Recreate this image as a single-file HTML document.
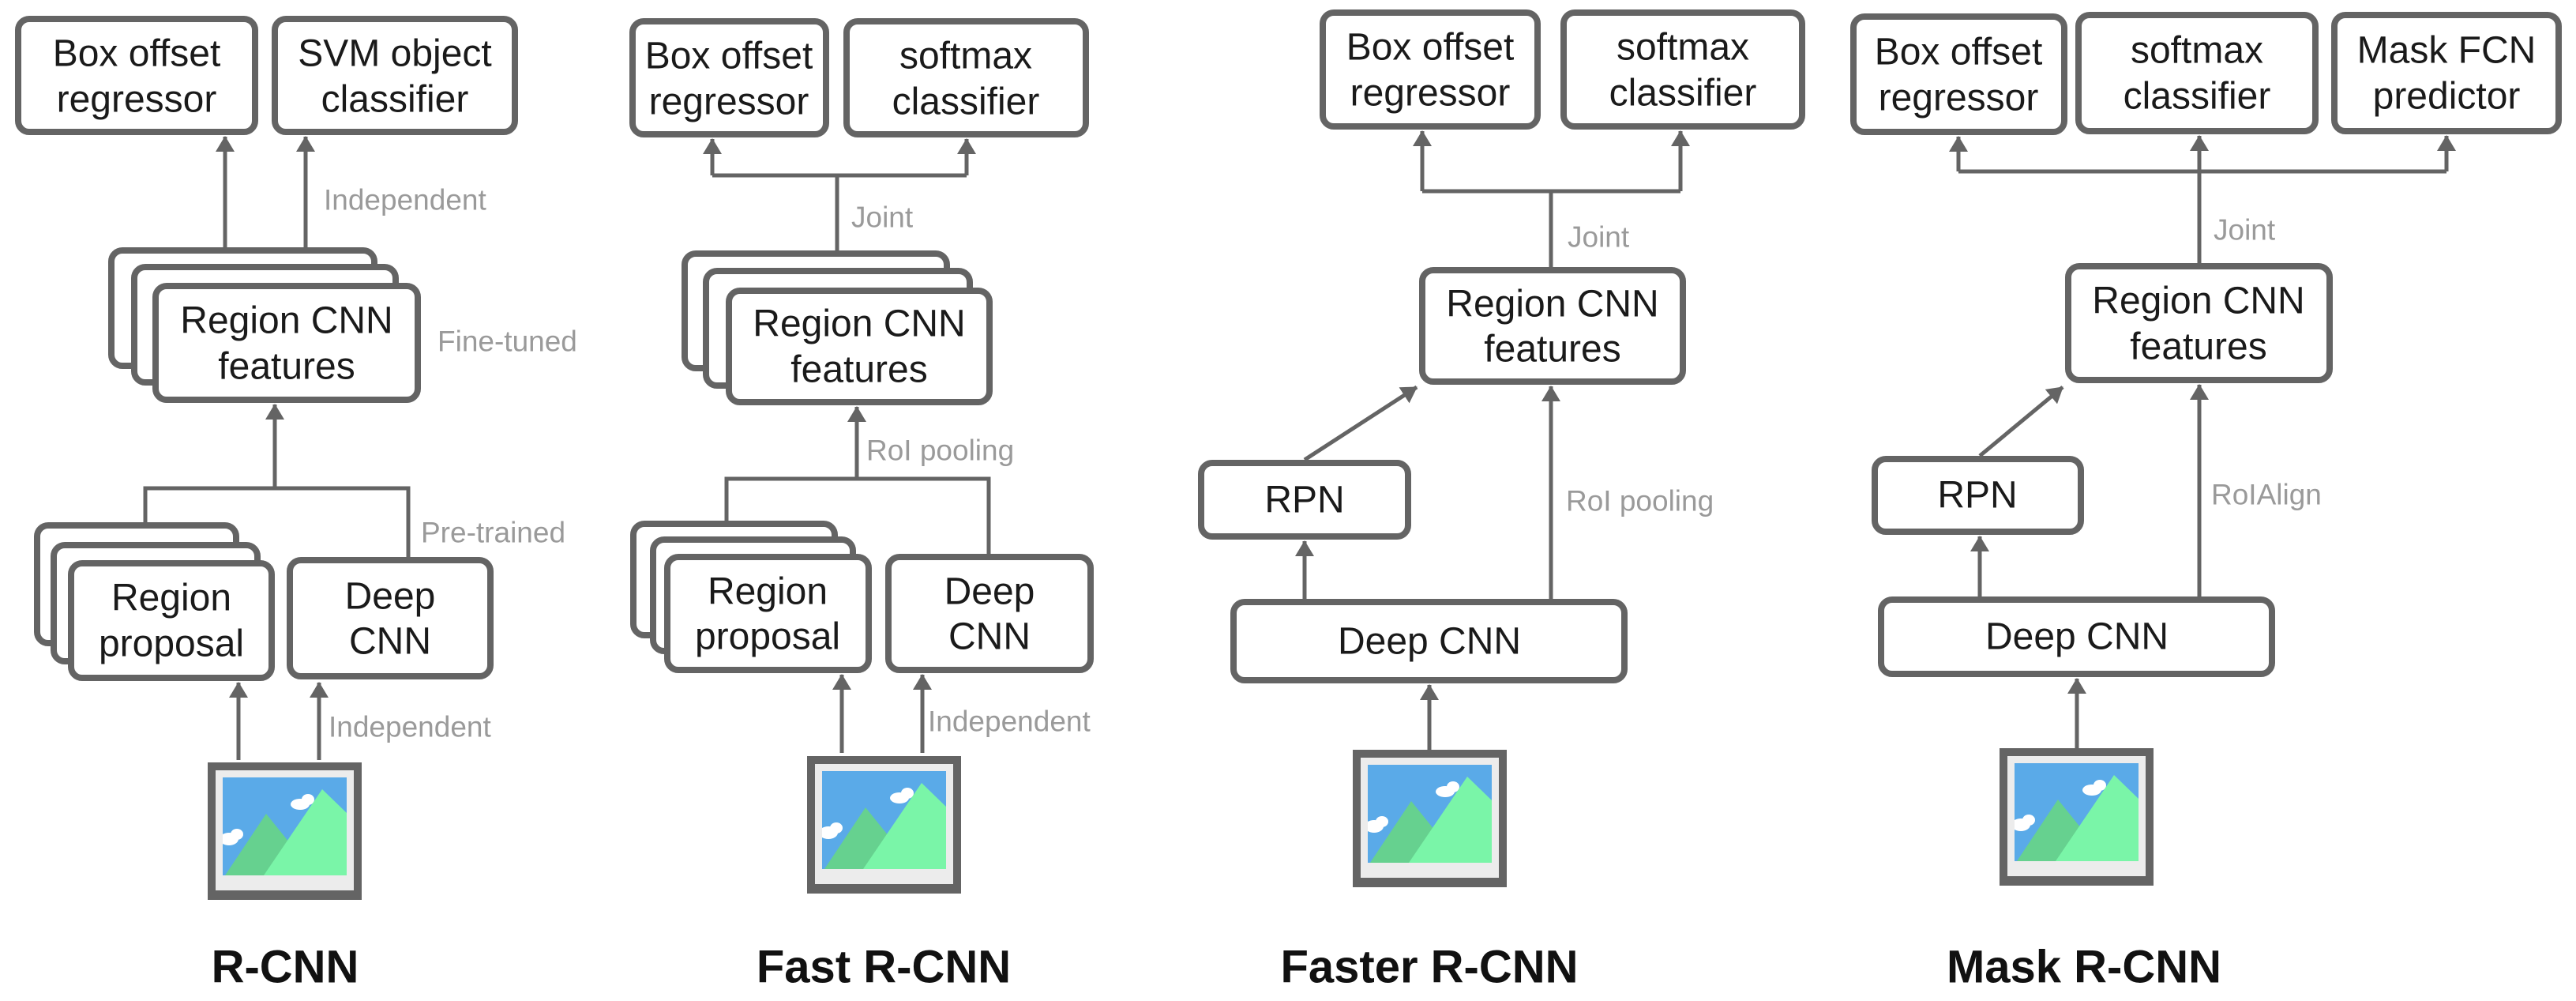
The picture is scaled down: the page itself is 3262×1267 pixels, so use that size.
<!DOCTYPE html>
<html><head><meta charset="utf-8"><style>
html,body{margin:0;padding:0;background:#fff;}
svg{display:block;}
.b{fill:#fff;stroke:#646464;stroke-width:8;}
.t{font-family:"Liberation Sans",sans-serif;font-size:48px;fill:#1a1a1a;text-anchor:middle;dominant-baseline:central;}
.l{font-family:"Liberation Sans",sans-serif;font-size:37px;fill:#9a9a9a;dominant-baseline:central;}
.h{font-family:"Liberation Sans",sans-serif;font-size:58px;font-weight:bold;fill:#111;text-anchor:middle;dominant-baseline:central;}
.c{fill:none;stroke:#646464;stroke-width:5;}
</style></head><body>
<svg width="3262" height="1267" viewBox="0 0 3262 1267" xmlns="http://www.w3.org/2000/svg">
<defs>
<marker id="a" viewBox="0 0 20 24" refX="19" refY="12" markerWidth="20" markerHeight="24" markerUnits="userSpaceOnUse" orient="auto"><path d="M0,0 L20,12 L0,24 z" fill="#646464"/></marker>
<g id="icon">
<rect x="0" y="0" width="195" height="174" fill="#646464"/>
<rect x="10" y="10" width="175" height="152" fill="#ececec"/>
<svg x="19" y="19" width="157" height="124" viewBox="0 0 157 124">
<rect width="157" height="124" fill="#5aaae8"/>
<ellipse cx="98" cy="34" rx="12" ry="7" fill="#fff"/><ellipse cx="108" cy="28" rx="8" ry="7" fill="#fff"/>
<ellipse cx="8" cy="78" rx="12" ry="8" fill="#fff"/><ellipse cx="18" cy="72" rx="8" ry="7" fill="#fff"/>
<polygon points="3,124 55,46 118,124" fill="#66d18f"/>
<polygon points="52,124 126,15 157,45 157,124" fill="#7af5a8"/>
</svg>
</g>
</defs>

<!-- Panel 1: R-CNN -->
<rect class="b" x="23" y="24" width="300" height="143" rx="14"/>
<text class="t" x="173" y="68">Box offset</text><text class="t" x="173" y="126">regressor</text>
<rect class="b" x="348" y="24" width="304" height="143" rx="14"/>
<text class="t" x="500" y="68">SVM object</text><text class="t" x="500" y="126">classifier</text>
<line class="c" x1="285" y1="313" x2="285" y2="173" marker-end="url(#a)"/>
<line class="c" x1="387" y1="313" x2="387" y2="173" marker-end="url(#a)"/>
<text class="l" x="410" y="253">Independent</text>
<rect class="b" x="141" y="317" width="333" height="146" rx="14"/>
<rect class="b" x="170" y="338" width="331" height="146" rx="14"/>
<rect class="b" x="197" y="362" width="332" height="144" rx="14"/>
<text class="t" x="363" y="406">Region CNN</text><text class="t" x="363" y="464">features</text>
<text class="l" x="554" y="432">Fine-tuned</text>
<line class="c" x1="348" y1="618" x2="348" y2="512" marker-end="url(#a)"/>
<polyline class="c" points="184,661 184,618 517,618 517,705"/>
<text class="l" x="533" y="674">Pre-trained</text>
<rect class="b" x="47" y="665" width="252" height="149" rx="14"/>
<rect class="b" x="68" y="690" width="258" height="147" rx="14"/>
<rect class="b" x="90" y="713" width="254" height="145" rx="14"/>
<text class="t" x="217" y="757">Region</text><text class="t" x="217" y="815">proposal</text>
<rect class="b" x="367" y="709" width="254" height="147" rx="14"/>
<text class="t" x="494" y="755">Deep</text><text class="t" x="494" y="812">CNN</text>
<line class="c" x1="302" y1="962" x2="302" y2="864" marker-end="url(#a)"/>
<line class="c" x1="404" y1="962" x2="404" y2="864" marker-end="url(#a)"/>
<text class="l" x="416" y="920">Independent</text>
<use href="#icon" x="263" y="965"/>
<text class="h" x="361" y="1224">R-CNN</text>

<!-- Panel 2: Fast R-CNN -->
<rect class="b" x="801" y="27" width="245" height="143" rx="14"/>
<text class="t" x="923" y="71">Box offset</text><text class="t" x="923" y="129">regressor</text>
<rect class="b" x="1072" y="27" width="303" height="143" rx="14"/>
<text class="t" x="1223" y="71">softmax</text><text class="t" x="1223" y="129">classifier</text>
<polyline class="c" points="902,222 1224,222"/>
<line class="c" x1="902" y1="222" x2="902" y2="176" marker-end="url(#a)"/>
<line class="c" x1="1224" y1="222" x2="1224" y2="176" marker-end="url(#a)"/>
<line class="c" x1="1060" y1="220" x2="1060" y2="317"/>
<text class="l" x="1078" y="275">Joint</text>
<rect class="b" x="867" y="321" width="332" height="145" rx="14"/>
<rect class="b" x="894" y="343" width="334" height="145" rx="14"/>
<rect class="b" x="923" y="368" width="330" height="141" rx="14"/>
<text class="t" x="1088" y="410">Region CNN</text><text class="t" x="1088" y="468">features</text>
<line class="c" x1="1085" y1="606" x2="1085" y2="515" marker-end="url(#a)"/>
<text class="l" x="1097" y="570">RoI pooling</text>
<polyline class="c" points="920,659 920,606 1252,606 1252,701"/>
<rect class="b" x="802" y="663" width="255" height="141" rx="14"/>
<rect class="b" x="827" y="683" width="253" height="141" rx="14"/>
<rect class="b" x="845" y="705" width="255" height="143" rx="14"/>
<text class="t" x="972" y="749">Region</text><text class="t" x="972" y="806">proposal</text>
<rect class="b" x="1125" y="705" width="256" height="143" rx="14"/>
<text class="t" x="1253" y="749">Deep</text><text class="t" x="1253" y="806">CNN</text>
<line class="c" x1="1066" y1="953" x2="1066" y2="854" marker-end="url(#a)"/>
<line class="c" x1="1168" y1="953" x2="1168" y2="854" marker-end="url(#a)"/>
<text class="l" x="1175" y="913">Independent</text>
<use href="#icon" x="1022" y="957"/>
<text class="h" x="1119" y="1224">Fast R-CNN</text>

<!-- Panel 3: Faster R-CNN -->
<rect class="b" x="1675" y="16" width="272" height="144" rx="14"/>
<text class="t" x="1811" y="60">Box offset</text><text class="t" x="1811" y="118">regressor</text>
<rect class="b" x="1980" y="16" width="302" height="144" rx="14"/>
<text class="t" x="2131" y="60">softmax</text><text class="t" x="2131" y="118">classifier</text>
<polyline class="c" points="1801,242 2128,242"/>
<line class="c" x1="1801" y1="242" x2="1801" y2="166" marker-end="url(#a)"/>
<line class="c" x1="2128" y1="242" x2="2128" y2="166" marker-end="url(#a)"/>
<line class="c" x1="1964" y1="240" x2="1964" y2="338"/>
<text class="l" x="1985" y="300">Joint</text>
<rect class="b" x="1801" y="342" width="330" height="141" rx="14"/>
<text class="t" x="1966" y="385">Region CNN</text><text class="t" x="1966" y="442">features</text>
<rect class="b" x="1521" y="586" width="262" height="93" rx="14"/>
<text class="t" x="1652" y="633">RPN</text>
<line class="c" x1="1652" y1="582" x2="1794" y2="490" marker-end="url(#a)"/>
<line class="c" x1="1652" y1="758" x2="1652" y2="685" marker-end="url(#a)"/>
<rect class="b" x="1562" y="762" width="495" height="99" rx="14"/>
<text class="t" x="1810" y="812">Deep CNN</text>
<line class="c" x1="1964" y1="758" x2="1964" y2="489" marker-end="url(#a)"/>
<text class="l" x="1983" y="634">RoI pooling</text>
<line class="c" x1="1810" y1="949" x2="1810" y2="867" marker-end="url(#a)"/>
<use href="#icon" x="1713" y="949"/>
<text class="h" x="1810" y="1224">Faster R-CNN</text>

<!-- Panel 4: Mask R-CNN -->
<rect class="b" x="2347" y="21" width="267" height="146" rx="14"/>
<text class="t" x="2480" y="66">Box offset</text><text class="t" x="2480" y="124">regressor</text>
<rect class="b" x="2632" y="19" width="300" height="147" rx="14"/>
<text class="t" x="2782" y="64">softmax</text><text class="t" x="2782" y="122">classifier</text>
<rect class="b" x="2956" y="19" width="284" height="147" rx="14"/>
<text class="t" x="3098" y="64">Mask FCN</text><text class="t" x="3098" y="122">predictor</text>
<polyline class="c" points="2480,217 3098,217"/>
<line class="c" x1="2480" y1="217" x2="2480" y2="173" marker-end="url(#a)"/>
<line class="c" x1="3098" y1="217" x2="3098" y2="172" marker-end="url(#a)"/>
<line class="c" x1="2785" y1="333" x2="2785" y2="172" marker-end="url(#a)"/>
<text class="l" x="2803" y="291">Joint</text>
<rect class="b" x="2619" y="337" width="331" height="144" rx="14"/>
<text class="t" x="2784" y="381">Region CNN</text><text class="t" x="2784" y="439">features</text>
<rect class="b" x="2374" y="581" width="261" height="92" rx="14"/>
<text class="t" x="2504" y="627">RPN</text>
<line class="c" x1="2507" y1="577" x2="2612" y2="490" marker-end="url(#a)"/>
<line class="c" x1="2507" y1="755" x2="2507" y2="679" marker-end="url(#a)"/>
<rect class="b" x="2382" y="759" width="495" height="94" rx="14"/>
<text class="t" x="2630" y="806">Deep CNN</text>
<line class="c" x1="2785" y1="755" x2="2785" y2="487" marker-end="url(#a)"/>
<text class="l" x="2800" y="626">RoIAlign</text>
<line class="c" x1="2630" y1="947" x2="2630" y2="859" marker-end="url(#a)"/>
<use href="#icon" x="2532" y="947"/>
<text class="h" x="2639" y="1224">Mask R-CNN</text>
</svg>
</body></html>
